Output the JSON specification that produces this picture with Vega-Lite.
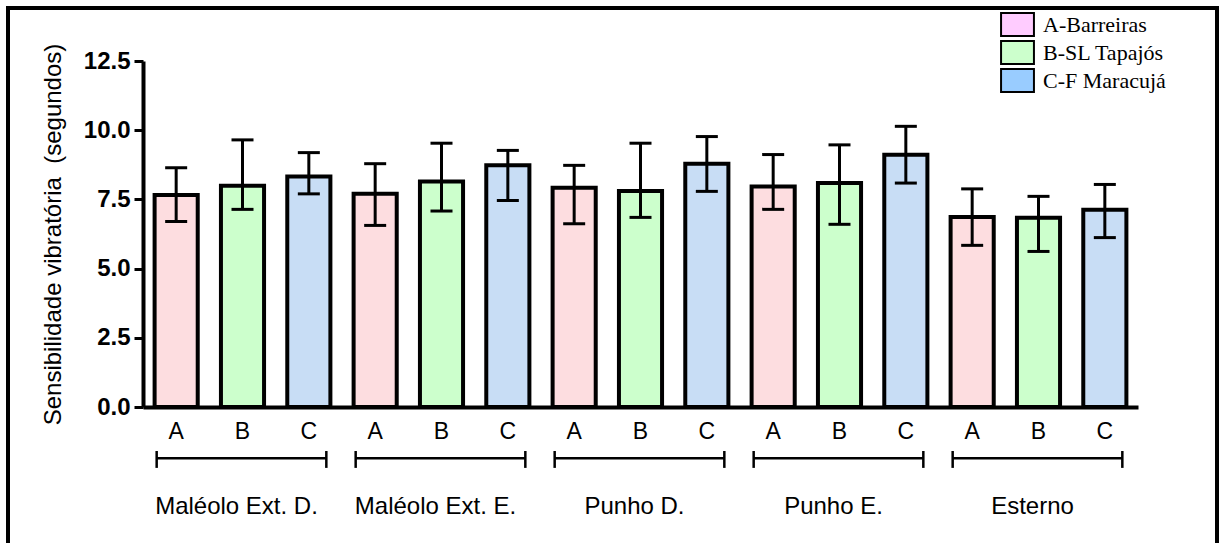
{
  "$schema": "https://vega.github.io/schema/vega-lite/v6.json",
  "autosize": "none",
  "padding": {"left": 143, "top": 61, "right": 84, "bottom": 136},
  "width": 995,
  "height": 346,
  "background": "white",
  "config": {"view": {"stroke": null}, "font": "Liberation Sans"},
  "resolve": {"scale": {"fill": "independent"}, "legend": {"fill": "independent"}},
  "datasets": {
    "bars": [
      {"group": "Maléolo Ext. D.", "sub": "A", "k": "Maléolo Ext. D.|A", "mean": 7.66, "lo": 6.70, "hi": 8.64},
      {"group": "Maléolo Ext. D.", "sub": "B", "k": "Maléolo Ext. D.|B", "mean": 7.99, "lo": 7.14, "hi": 9.65},
      {"group": "Maléolo Ext. D.", "sub": "C", "k": "Maléolo Ext. D.|C", "mean": 8.33, "lo": 7.70, "hi": 9.19},
      {"group": "Maléolo Ext. E.", "sub": "A", "k": "Maléolo Ext. E.|A", "mean": 7.70, "lo": 6.56, "hi": 8.79},
      {"group": "Maléolo Ext. E.", "sub": "B", "k": "Maléolo Ext. E.|B", "mean": 8.15, "lo": 7.08, "hi": 9.53},
      {"group": "Maléolo Ext. E.", "sub": "C", "k": "Maléolo Ext. E.|C", "mean": 8.73, "lo": 7.46, "hi": 9.27},
      {"group": "Punho D.", "sub": "A", "k": "Punho D.|A", "mean": 7.92, "lo": 6.62, "hi": 8.73},
      {"group": "Punho D.", "sub": "B", "k": "Punho D.|B", "mean": 7.80, "lo": 6.85, "hi": 9.53},
      {"group": "Punho D.", "sub": "C", "k": "Punho D.|C", "mean": 8.79, "lo": 7.79, "hi": 9.77},
      {"group": "Punho E.", "sub": "A", "k": "Punho E.|A", "mean": 7.97, "lo": 7.14, "hi": 9.12},
      {"group": "Punho E.", "sub": "B", "k": "Punho E.|B", "mean": 8.09, "lo": 6.60, "hi": 9.47},
      {"group": "Punho E.", "sub": "C", "k": "Punho E.|C", "mean": 9.11, "lo": 8.09, "hi": 10.14},
      {"group": "Esterno", "sub": "A", "k": "Esterno|A", "mean": 6.86, "lo": 5.84, "hi": 7.88},
      {"group": "Esterno", "sub": "B", "k": "Esterno|B", "mean": 6.84, "lo": 5.62, "hi": 7.61},
      {"group": "Esterno", "sub": "C", "k": "Esterno|C", "mean": 7.13, "lo": 6.12, "hi": 8.04}
    ],
    "groups": [
      {"group": "Maléolo Ext. D.", "first": "Maléolo Ext. D.|A", "mid": "Maléolo Ext. D.|B", "last": "Maléolo Ext. D.|C"},
      {"group": "Maléolo Ext. E.", "first": "Maléolo Ext. E.|A", "mid": "Maléolo Ext. E.|B", "last": "Maléolo Ext. E.|C"},
      {"group": "Punho D.", "first": "Punho D.|A", "mid": "Punho D.|B", "last": "Punho D.|C"},
      {"group": "Punho E.", "first": "Punho E.|A", "mid": "Punho E.|B", "last": "Punho E.|C"},
      {"group": "Esterno", "first": "Esterno|A", "mid": "Esterno|B", "last": "Esterno|C"}
    ]
  },
  "layer": [
    {
      "data": {"name": "bars"},
      "mark": {"type": "bar", "stroke": "black", "strokeWidth": 4, "strokeJoin": "miter"},
      "encoding": {
        "x": {
          "field": "k", "type": "nominal", "sort": null,
          "scale": {
            "domain": ["Maléolo Ext. D.|A", "Maléolo Ext. D.|B", "Maléolo Ext. D.|C", "Maléolo Ext. E.|A", "Maléolo Ext. E.|B", "Maléolo Ext. E.|C", "Punho D.|A", "Punho D.|B", "Punho D.|C", "Punho E.|A", "Punho E.|B", "Punho E.|C", "Esterno|A", "Esterno|B", "Esterno|C"],
            "paddingInner": 0.35, "paddingOuter": 0.175
          },
          "axis": {
            "title": null, "labelAngle": 0, "ticks": false,
            "labelExpr": "split(datum.value, '|')[1]",
            "labelFont": "Liberation Sans", "labelFontSize": 23, "labelColor": "black",
            "labelPadding": 13, "domainColor": "black", "domainWidth": 4
          }
        },
        "y": {
          "field": "mean", "type": "quantitative",
          "scale": {"domain": [0, 12.5], "nice": false},
          "axis": {
            "title": "Sensibilidade vibratória \u00a0(segundos)",
            "values": [0, 2.5, 5, 7.5, 10, 12.5], "format": ".1f", "grid": false,
            "labelFont": "Liberation Sans", "labelFontWeight": "bold", "labelFontSize": 24, "labelColor": "black",
            "labelPadding": 4, "tickSize": 9, "tickWidth": 3, "tickColor": "black",
            "domainColor": "black", "domainWidth": 4,
            "titleFont": "Liberation Sans", "titleFontWeight": "normal", "titleFontSize": 24, "titleColor": "black",
            "titlePadding": 18
          }
        },
        "fill": {
          "field": "sub", "type": "nominal",
          "scale": {"domain": ["A", "B", "C"], "range": ["#fddde0", "#ccffcc", "#c8ddf5"]},
          "legend": null
        }
      }
    },
    {
      "data": {"name": "bars"},
      "mark": {"type": "bar", "opacity": 0},
      "encoding": {
        "x": {"field": "k", "type": "nominal"},
        "y": {"field": "mean", "type": "quantitative"},
        "fill": {
          "field": "sub", "type": "nominal",
          "scale": {"domain": ["A", "B", "C"], "range": ["#ffccff", "#ccffcc", "#99ccff"]},
          "legend": {
            "title": null, "orient": "none", "legendX": 862, "legendY": -49, "padding": 0,
            "labelExpr": "datum.label == 'A' ? 'A-Barreiras' : datum.label == 'B' ? 'B-SL Tapajós' : 'C-F Maracujá'",
            "labelFont": "Liberation Serif", "labelFontSize": 22, "labelColor": "black", "labelOffset": 13,
            "symbolType": "M-1.43,-1L1.43,-1L1.43,1L-1.43,1Z", "symbolSize": 529,
            "symbolStrokeColor": "black", "symbolStrokeWidth": 2, "symbolOpacity": 1, "rowPadding": -5
          }
        }
      }
    },
    {
      "data": {"name": "bars"},
      "mark": {"type": "rule", "strokeWidth": 3, "color": "black"},
      "encoding": {
        "x": {"field": "k", "type": "nominal"},
        "y": {"field": "lo", "type": "quantitative"},
        "y2": {"field": "hi"}
      }
    },
    {
      "data": {"name": "bars"},
      "mark": {"type": "tick", "size": 22, "thickness": 3, "color": "black", "opacity": 1},
      "encoding": {
        "x": {"field": "k", "type": "nominal"},
        "y": {"field": "hi", "type": "quantitative"}
      }
    },
    {
      "data": {"name": "bars"},
      "mark": {"type": "tick", "size": 22, "thickness": 3, "color": "black", "opacity": 1},
      "encoding": {
        "x": {"field": "k", "type": "nominal"},
        "y": {"field": "lo", "type": "quantitative"}
      }
    },
    {
      "data": {"name": "groups"},
      "mark": {"type": "rule", "strokeWidth": 2.5, "color": "black", "xOffset": -19.5, "x2Offset": 17.5},
      "encoding": {
        "x": {"field": "first", "type": "nominal"},
        "x2": {"field": "last"},
        "y": {"datum": -1.852}
      }
    },
    {
      "data": {"name": "groups"},
      "mark": {"type": "rule", "strokeWidth": 2.5, "color": "black", "xOffset": -19.5},
      "encoding": {
        "x": {"field": "first", "type": "nominal"},
        "y": {"datum": -1.59},
        "y2": {"datum": -2.2}
      }
    },
    {
      "data": {"name": "groups"},
      "mark": {"type": "rule", "strokeWidth": 2.5, "color": "black", "xOffset": 17.5},
      "encoding": {
        "x": {"field": "last", "type": "nominal"},
        "y": {"datum": -1.59},
        "y2": {"datum": -2.2}
      }
    },
    {
      "data": {"name": "groups"},
      "mark": {"type": "text", "font": "Liberation Sans", "fontSize": 24, "color": "black", "baseline": "alphabetic", "align": "center", "dx": -6},
      "encoding": {
        "x": {"field": "mid", "type": "nominal"},
        "y": {"datum": -3.85},
        "text": {"field": "group"}
      }
    },
    {
      "data": {"values": [{}]},
      "mark": {"type": "rect", "fill": "transparent", "stroke": "black", "strokeWidth": 4, "xOffset": -135, "x2Offset": 79, "yOffset": -53, "y2Offset": 150},
      "encoding": {
        "x": {"value": 0},
        "x2": {"value": "width"},
        "y": {"value": 0},
        "y2": {"value": "height"}
      }
    }
  ]
}
